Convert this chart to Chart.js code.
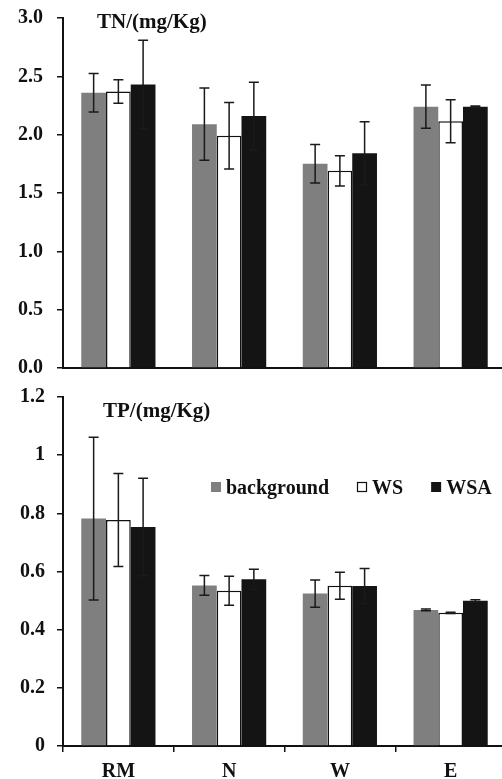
<!DOCTYPE html>
<html>
<head>
<meta charset="utf-8">
<script src="https://cdn.jsdelivr.net/npm/chart.js@4.4.0/dist/chart.umd.min.js"></script>
<style>
  html, body { margin: 0; padding: 0; background: #fff; overflow: hidden; width: 502px; height: 779px; }
  canvas { position: absolute; left: 0; display: block; }
  #tn { top: 0; }
  #tp { top: 376px; }
</style>
</head>
<body>
<canvas id="tn" width="506" height="386"></canvas>
<canvas id="tp" width="506" height="403"></canvas>
<script>
const categories = ['RM', 'N', 'W', 'E'];
const seriesNames = ['background', 'WS', 'WSA'];

// TN panel
const tnBackground = [2.36, 2.09, 1.75, 2.24];
const tnBackgroundErr = [0.165, 0.31, 0.165, 0.185];
const tnWS = [2.37, 1.99, 1.69, 2.115];
const tnWSErr = [0.10, 0.285, 0.13, 0.185];
const tnWSA = [2.43, 2.16, 1.84, 2.24];
const tnWSAErr = [0.38, 0.29, 0.27, 0.005];
const tnTicks = ['0.0', '0.5', '1.0', '1.5', '2.0', '2.5', '3.0'];

// TP panel
const tpBackground = [0.782, 0.552, 0.524, 0.468];
const tpBackgroundErr = [0.28, 0.034, 0.047, 0.003];
const tpWS = [0.777, 0.534, 0.551, 0.458];
const tpWSErr = [0.16, 0.05, 0.046, 0.002];
const tpWSA = [0.753, 0.573, 0.55, 0.499];
const tpWSAErr = [0.168, 0.035, 0.06, 0.004];
const tpTicks = ['0', '0.2', '0.4', '0.6', '0.8', '1', '1.2'];

const ink = '#111';
const serif = '"Liberation Serif", "Times New Roman", serif';

Chart.defaults.font.family = serif;
Chart.defaults.font.weight = 'bold';
Chart.defaults.font.size = 20;
Chart.defaults.color = ink;

// vertical error bars with caps, placed with the y scale
const errorBars = {
  id: 'errorBars',
  afterDatasetsDraw(chart) {
    const ctx = chart.ctx;
    const y = chart.scales.y;
    ctx.save();
    ctx.strokeStyle = '#1a1a1a';
    ctx.lineWidth = 1.5;
    chart.data.datasets.forEach((ds, i) => {
      chart.getDatasetMeta(i).data.forEach((bar, j) => {
        const v = ds.data[j], e = ds.errors[j];
        const top = y.getPixelForValue(v + e);
        const bot = y.getPixelForValue(v - e);
        ctx.beginPath();
        ctx.moveTo(bar.x, top); ctx.lineTo(bar.x, bot);
        ctx.moveTo(bar.x - 5, top); ctx.lineTo(bar.x + 5, top);
        ctx.moveTo(bar.x - 5, bot); ctx.lineTo(bar.x + 5, bot);
        ctx.stroke();
      });
    });
    ctx.restore();
  }
};

// panel title and (optional) legend
const panelText = {
  id: 'panelText',
  afterDraw(chart, args, opts) {
    const ctx = chart.ctx;
    ctx.save();
    ctx.fillStyle = ink;
    ctx.textBaseline = 'alphabetic';
    ctx.font = 'bold 21px ' + serif;
    ctx.fillText(opts.title, opts.titleX, opts.titleY);
    if (opts.legend) {
      ctx.font = 'bold 20px ' + serif;
      let x = opts.legendX;
      const by = opts.legendY - 12;
      chart.data.datasets.forEach(ds => {
        ctx.fillStyle = ds.backgroundColor;
        ctx.fillRect(x, by, 10, 10);
        if (ds.borderWidth) {
          ctx.strokeStyle = ink;
          ctx.lineWidth = 1.2;
          ctx.strokeRect(x + 0.5, by + 0.5, 9, 9);
        }
        ctx.fillStyle = ink;
        ctx.fillText(ds.label, x + 15, opts.legendY);
        x += 15 + ctx.measureText(ds.label).width + 28;
      });
    }
    ctx.restore();
  }
};

function datasets(bg, bgErr, ws, wsErr, wsa, wsaErr) {
  return [
    { label: seriesNames[0], data: bg, errors: bgErr, backgroundColor: '#7f7f7f', borderWidth: 0 },
    { label: seriesNames[1], data: ws, errors: wsErr, backgroundColor: '#ffffff', borderColor: ink, borderWidth: 1.5 },
    { label: seriesNames[2], data: wsa, errors: wsaErr, backgroundColor: '#141414', borderWidth: 0 }
  ];
}

function makeChart(id, sets, yMax, step, tickLabels, tickPad, showX, padding, text) {
  return new Chart(document.getElementById(id), {
    type: 'bar',
    data: { labels: categories, datasets: sets },
    options: {
      responsive: false,
      animation: false,
      layout: { padding },
      categoryPercentage: 0.67,
      barPercentage: 1.0,
      plugins: { legend: { display: false }, tooltip: { enabled: false }, panelText: text },
      scales: {
        x: {
          ticks: { display: showX, padding: 8, color: ink },
          border: { color: ink, width: 2 },
          grid: showX
            ? { drawOnChartArea: false, tickLength: 6, color: ink, lineWidth: 1.5 }
            : { display: false, drawTicks: false },
          afterFit: s => {
            s.height = showX ? 33 : 0;
            s.paddingLeft = 0; s.paddingRight = 0;
          }
        },
        y: {
          min: 0,
          max: yMax,
          ticks: { stepSize: step, padding: tickPad, color: ink, callback: (v, i) => tickLabels[i] },
          border: { color: ink, width: 2 },
          grid: { drawOnChartArea: false, tickLength: 6, color: ink, lineWidth: 1.5 },
          afterFit: s => {
            s.width = 63;
            s.paddingTop = 0; s.paddingBottom = 0;
          }
        }
      }
    },
    plugins: [errorBars, panelText]
  });
}

makeChart('tn', datasets(tnBackground, tnBackgroundErr, tnWS, tnWSErr, tnWSA, tnWSAErr),
  3, 0.5, tnTicks, 14, false, { top: 18, bottom: 18, left: 0, right: 0 },
  { title: 'TN/(mg/Kg)', titleX: 97, titleY: 28, legend: false });

makeChart('tp', datasets(tpBackground, tpBackgroundErr, tpWS, tpWSErr, tpWSA, tpWSAErr),
  1.2, 0.2, tpTicks, 12, true, { top: 21, bottom: 0, left: 0, right: 0 },
  { title: 'TP/(mg/Kg)', titleX: 103, titleY: 41, legend: true, legendX: 211, legendY: 118 });
</script>
</body>
</html>
